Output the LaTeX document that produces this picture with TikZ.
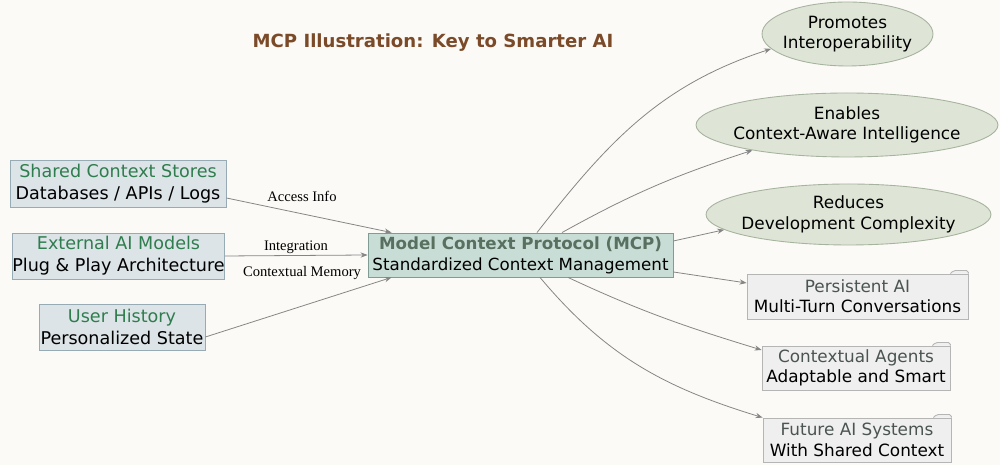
\documentclass[tikz,border=0pt]{standalone}
\usepackage{fontspec}
\setmainfont{DejaVu Sans}
\newfontfamily\lblfont{Liberation Serif}
\usepackage{tikz}
\usetikzlibrary{arrows.meta,shapes.geometric}
\definecolor{bgpaper}{HTML}{FBFAF6}
\definecolor{titlebrown}{HTML}{7B4A28}
\definecolor{srcfill}{HTML}{DCE4E7}
\definecolor{srcline}{HTML}{97ABB5}
\definecolor{srcgreen}{HTML}{2F7D4E}
\definecolor{mcpfill}{HTML}{C9DDD7}
\definecolor{mcpline}{HTML}{7F9D94}
\definecolor{mcphead}{HTML}{58705F}
\definecolor{ovalfill}{HTML}{DEE5D6}
\definecolor{ovalline}{HTML}{A6B39E}
\definecolor{foldfill}{HTML}{EFEFEF}
\definecolor{foldline}{HTML}{B5B5B5}
\definecolor{foldhead}{HTML}{4A5450}
\definecolor{linkgray}{HTML}{858585}
\newcommand{\cgreen}[1]{\textcolor{srcgreen}{#1}}
\newcommand{\cfold}[1]{\textcolor{foldhead}{#1}}
\newcommand{\foldertab}[1]{%
  \filldraw[fill=foldfill, draw=foldline, line width=0.5pt, rounded corners=1pt]
    ([xshift=-0.36cm]#1.north east) -- ++(0.06cm,0.06cm) -- ([yshift=0.06cm]#1.north east) -- (#1.north east);}

\begin{document}
\begin{tikzpicture}[x=0.02cm,y=0.02cm,
  titletext/.style={text=titlebrown, font=\fontsize{10.3}{12}\selectfont\bfseries},
  srcbox/.style={draw=srcline, fill=srcfill, line width=0.5pt, align=center, inner sep=0pt,
    font=\fontsize{10}{12.5}\selectfont},
  mcpbox/.style={draw=mcpline, fill=mcpfill, line width=0.5pt, align=center, inner sep=0pt,
    minimum width=6.1cm, minimum height=0.88cm, font=\fontsize{9.5}{12}\selectfont},
  oval/.style={ellipse, draw=ovalline, fill=ovalfill, line width=0.5pt, align=center,
    inner xsep=-20pt, inner ysep=-10pt, font=\fontsize{9.6}{11.6}\selectfont},
  folderbox/.style={draw=foldline, fill=foldfill, line width=0.5pt, align=center, inner sep=0pt,
    font=\fontsize{9.6}{11.6}\selectfont},
  edgelbl/.style={font=\lblfont\fontsize{8.3}{10}\selectfont, inner sep=1pt},
  link/.style={draw=linkgray, line width=0.45pt, -{Stealth[length=4pt,width=3pt]}}]

	\fill[bgpaper] (0,0) rectangle (1000,465);

	\node[titletext] (title) at (433,422) {MCP Illustration: Key to Smarter AI};

	% sources
	\node[srcbox, minimum width=4.32cm, minimum height=0.94cm] (shared) at (118,281.5)
		{\cgreen{Shared Context Stores}\\Databases / APIs / Logs};
	\node[srcbox, minimum width=4.22cm, minimum height=0.92cm] (external) at (118.5,209)
		{\cgreen{External AI Models}\\Plug \& Play Architecture};
	\node[srcbox, minimum width=3.32cm, minimum height=0.92cm] (user) at (122,138)
		{\cgreen{User History}\\Personalized State};

	\node[mcpbox] (mcp) at (520.5,210)
		{\textcolor{mcphead}{\bfseries Model Context Protocol (MCP)}\\Standardized Context Management};

	% benefits
	\node[oval, minimum width=3.42cm, minimum height=1.28cm] (promotes) at (847.5,431) {Promotes\\Interoperability};
	\node[oval, minimum width=6.04cm, minimum height=1.28cm] (enables) at (847,340) {Enables\\Context-Aware Intelligence};
	\node[oval, minimum width=5.7cm, minimum height=1.22cm] (reduces) at (848.5,250.5) {Reduces\\Development Complexity};

	\node[folderbox, minimum width=4.42cm, minimum height=0.9cm] (persistent) at (857.5,168.5)
		{\cfold{Persistent AI}\\Multi-Turn Conversations};
	\node[folderbox, minimum width=3.76cm, minimum height=0.88cm] (contextual) at (856,97)
		{\cfold{Contextual Agents}\\Adaptable and Smart};
	\node[folderbox, minimum width=3.76cm, minimum height=0.88cm] (future) at (857,25)
		{\cfold{Future AI Systems}\\With Shared Context};
	\foldertab{persistent}
	\foldertab{contextual}
	\foldertab{future}

	% inputs
	\draw[link] ([yshift=-0.29cm]shared.east) -- ([xshift=0.48cm]mcp.north west);
	\draw[link] (external.east) -- (mcp.west);
	\draw[link] ([yshift=-0.2cm]user.east) -- ([xshift=0.48cm]mcp.south west);
	\node[edgelbl] (accessinfo) at (302,269) {Access Info};
	\node[edgelbl] (integration) at (296,218) {Integration};
	\node[edgelbl] (ctxmemory) at (302,192) {Contextual Memory};

	% outputs
	\draw[link] ([xshift=0.33cm]mcp.north) to[out=52,in=198] (promotes.191);
	\draw[link] ([xshift=0.83cm]mcp.north) to[out=29,in=198] (enables.195);
	\draw[link] ([yshift=0.28cm]mcp.east) -- (reduces.187);
	\draw[link] ([yshift=-0.34cm]mcp.east) -- ([yshift=0.27cm]persistent.west);
	\draw[link] ([xshift=0.95cm]mcp.south) to[out=-25,in=163] ([yshift=0.36cm]contextual.west);
	\draw[link] ([xshift=0.39cm]mcp.south) to[out=-50,in=163] (future.north west);

\end{tikzpicture}
\end{document}
